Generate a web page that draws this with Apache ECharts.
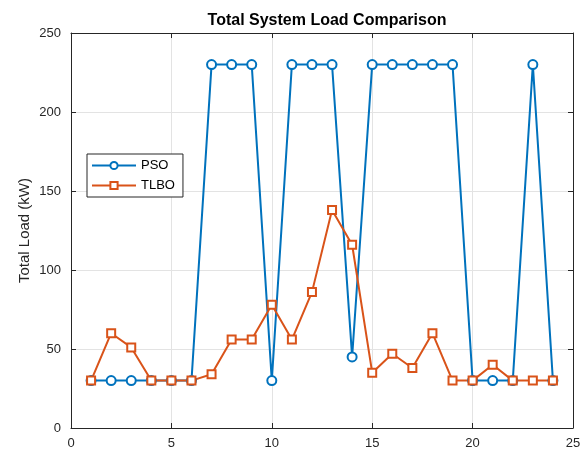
<!DOCTYPE html>
<html>
<head>
<meta charset="utf-8">
<script src="https://cdn.jsdelivr.net/npm/echarts@6/dist/echarts.min.js"></script>
<style>
  html, body { margin: 0; padding: 0; background: #fff; }
  #main { width: 587px; height: 452px; }
</style>
</head>
<body>
<div id="main"></div>
<script>
// 时段 1..24
const hours = [1, 2, 3, 4, 5, 6, 7, 8, 9, 10, 11, 12, 13, 14, 15, 16, 17, 18, 19, 20, 21, 22, 23, 24]
const psoLoad = [30, 30, 30, 30, 30, 30, 230, 230, 230, 30, 230, 230, 230, 45, 230, 230, 230, 230, 230, 30, 30, 30, 230, 30]
const tlboLoad = [30, 60, 51, 30, 30, 30, 34, 56, 56, 78, 56, 86, 138, 116, 35, 47, 38, 60, 30, 30, 40, 30, 30, 30]

const font = 'Liberation Sans, Arial, sans-serif'
const axisColor = '#262626'

function pairs (xs, ys) {
  return xs.map((x, i) => [x, ys[i]])
}

const chart = echarts.init(document.getElementById('main'))
const option = {
  backgroundColor: '#fff',
  animation: false,
  title: {
    text: 'Total System Load Comparison',
    left: 322,
    textAlign: 'center',
    top: 8,
    textStyle: { fontFamily: font, fontSize: 16, fontWeight: 'bold', color: '#000' }
  },
  legend: {
    orient: 'vertical',
    left: 87,
    top: 154,
    itemWidth: 44,
    itemHeight: 9,
    itemGap: 7,
    padding: [5, 8, 5, 4],
    borderColor: '#262626',
    borderWidth: 1,
    backgroundColor: '#fff',
    textStyle: { fontFamily: font, fontSize: 13, color: '#000' },
    data: ['PSO', 'TLBO']
  },
  grid: { left: 71, right: 14, top: 33, bottom: 24 },
  xAxis: [
    {
      type: 'value', min: 0, max: 25, interval: 5,
      axisLine: { onZero: false, lineStyle: { color: axisColor } },
      axisTick: { inside: true, length: 5, lineStyle: { color: axisColor } },
      axisLabel: { fontFamily: font, fontSize: 13, color: axisColor, margin: 9 },
      splitLine: { show: true, lineStyle: { color: '#e3e3e3' } }
    },
    {
      type: 'value', min: 0, max: 25, interval: 5, position: 'top',
      axisLine: { onZero: false, lineStyle: { color: axisColor } },
      axisTick: { inside: true, length: 5, lineStyle: { color: axisColor } },
      axisLabel: { show: false },
      splitLine: { show: false }
    }
  ],
  yAxis: [
    {
      type: 'value', min: 0, max: 250, interval: 50,
      name: 'Total Load (kW)',
      nameLocation: 'middle',
      nameGap: 39,
      nameMoveOverlap: false,
      nameTextStyle: { fontFamily: font, fontSize: 15, color: axisColor },
      axisLine: { show: true, onZero: false, lineStyle: { color: axisColor } },
      axisTick: { show: true, inside: true, length: 5, lineStyle: { color: axisColor } },
      axisLabel: { fontFamily: font, fontSize: 13, color: axisColor, margin: 10 },
      splitLine: { show: true, lineStyle: { color: '#e3e3e3' } }
    },
    {
      type: 'value', min: 0, max: 250, interval: 50, position: 'right',
      axisLine: { show: true, onZero: false, lineStyle: { color: axisColor } },
      axisTick: { show: true, inside: true, length: 5, lineStyle: { color: axisColor } },
      axisLabel: { show: false },
      splitLine: { show: false }
    }
  ],
  series: [
    {
      name: 'PSO',
      type: 'line',
      data: pairs(hours, psoLoad),
      symbol: 'emptyCircle',
      symbolSize: 9,
      color: '#0072BD',
      lineStyle: { width: 2 },
      itemStyle: { borderWidth: 2 }
    },
    {
      name: 'TLBO',
      type: 'line',
      data: pairs(hours, tlboLoad),
      symbol: 'emptyRect',
      symbolSize: 8,
      color: '#D95319',
      lineStyle: { width: 2 },
      itemStyle: { borderWidth: 2 }
    }
  ]
}
chart.setOption(option)
</script>
</body>
</html>
